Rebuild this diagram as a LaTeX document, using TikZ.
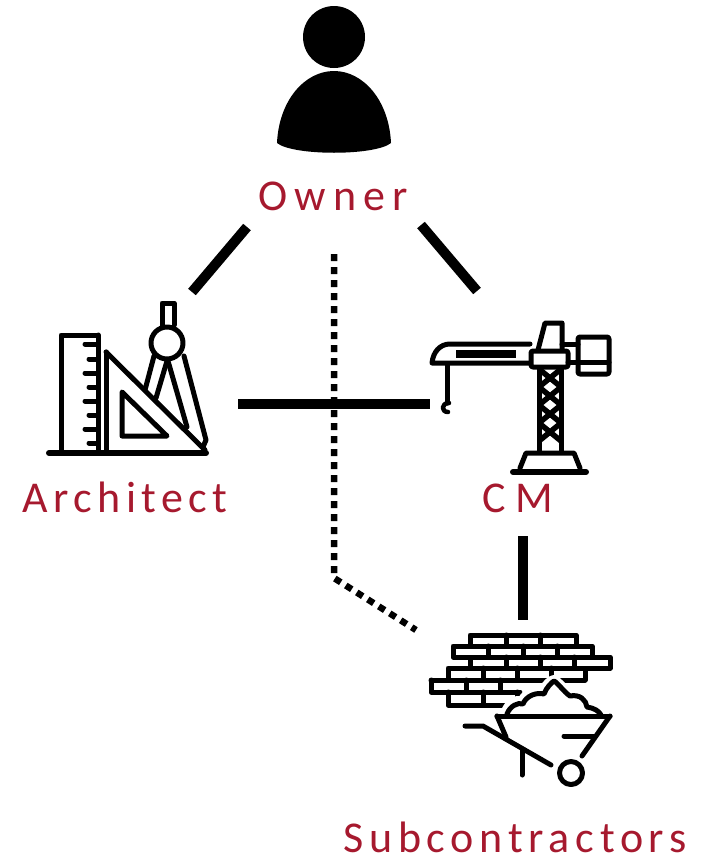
\documentclass[tikz,border=0pt]{standalone}
\usepackage{fontspec}
\setmainfont{Carlito}
\newfontfamily\spacedO[LetterSpace=16.5]{Carlito}
\newfontfamily\spacedA[LetterSpace=12.3]{Carlito}
\newfontfamily\spacedC[LetterSpace=23]{Carlito}
\newfontfamily\spacedS[LetterSpace=13]{Carlito}
\usetikzlibrary{calc}
\definecolor{labelred}{HTML}{A6192E}
\tikzset{
  lbl/.style={text=labelred,inner sep=0pt,anchor=base},
  link/.style={line width=10pt,black},
  dotlink/.style={line width=6.5pt,black,dash pattern=on 7pt off 6pt},
  ico/.style={line width=5pt,line cap=round,line join=round,black},
  thick ico/.style={line width=6pt,line cap=round,line join=round,black},
}
\begin{document}
\begin{tikzpicture}[x=1pt,y=-1pt]
\useasboundingbox (0,0) rectangle (705,865);
% Owner icon
\fill (334,37) circle (31);
\fill (277,143) .. controls (279,100) and (305,71) .. (334,71) .. controls (363,71) and (389,100) .. (391,143) .. controls (375,156) and (293,156) .. (277,143) -- cycle;
% Architect icon
\begin{scope}[ico]
\draw (98,335) -- (61,335) -- (61,453);
\draw (98,335) -- (98,453);
\foreach \y/\x in {344/85,359/89,373/85,387/89,401/85,415/89,429/85,443/89}{\draw (\x,\y) -- (98,\y);}
\draw (106,352) -- (106,453);
\draw (106,352) -- (205,450);
\draw (122,392) -- (122,436) -- (167,436) -- cycle;
\draw (162,325) -- (162,303) -- (174,303) -- (174,325);
\draw (167,343) circle (16);
\draw (154,356) -- (145,390);
\draw (167,361) -- (156,398);
\draw (168,361) -- (187,427);
\draw (184,356) -- (206,440) -- (203,447);
\end{scope}
\draw[thick ico] (49,453) -- (206,453);
% Crane icon
\begin{scope}[ico]
\draw (530,344) -- (450,344) .. controls (440,344) and (433,352) .. (432,363) -- (530,363);
\fill (456,350) rectangle (516,358);
\draw (538,350) -- (545,323) -- (562,323) -- (562,350);
\draw[rounded corners=2pt] (531,351) rectangle (568,367);
\draw (562,344) -- (578,344);
\draw (568,362) -- (578,362);
\draw[rounded corners=2pt] (578,337) rectangle (609,374);
\draw (578,362) -- (609,362);
\draw (539,369) -- (539,452);
\draw (561,369) -- (561,452);
\foreach \a in {369,387,405,423}{
  \draw[line width=5.5pt,line cap=butt] (539,\a) -- (561,\a+18) (561,\a) -- (539,\a+18);
}
\draw (520,468) -- (526,453) -- (574,453) -- (580,468);
\draw (447,365) -- (447,403);
\draw[line width=4.5pt] (449,403) .. controls (441,403) and (441,412) .. (448,412);
\end{scope}
\draw[thick ico] (513,472) -- (586,472);
% Bricks and barrow icon
\begin{scope}[ico]
\draw (470,646) -- (470,635) -- (576,635) -- (576,646);
\draw (453,646) rectangle (592,657);
\draw (470,657) -- (610,657) -- (610,668) -- (470,668) -- cycle;
\draw (448,680) -- (448,668) -- (585,668) -- (585,680);
\draw (431,680) -- (585,680);
\draw (431,680) -- (431,692) -- (520,692);
\draw (448,692) -- (448,705) -- (515,705);
\foreach \x in {506,540} \draw (\x,635) -- (\x,646);
\foreach \x in {488,523,557} \draw (\x,646) -- (\x,657);
\foreach \x in {506,540,574} \draw (\x,657) -- (\x,668);
\foreach \x in {483,517,551} \draw (\x,668) -- (\x,680);
\foreach \x in {466,500} \draw (\x,680) -- (\x,692);
\foreach \x in {483,517} \draw (\x,692) -- (\x,705);
\path[fill=white,draw=white,line width=10pt] (505,714) .. controls (510,700) and (518,700) .. (522,702) .. controls (526,692) and (536,690) .. (543,692) .. controls (545,685) and (552,680) .. (554,680) .. controls (558,682) and (564,690) .. (570,694) .. controls (580,692) and (586,698) .. (586,706) .. controls (594,706) and (600,710) .. (602,715) -- (612,730) -- (500,730) -- cycle;
\path[fill=white] (495,715) rectangle (615,780);
\draw (507,714) .. controls (510,706) and (518,702) .. (523,704) .. controls (526,696) and (536,692) .. (544,694) .. controls (546,688) and (552,682) .. (554,681) .. controls (558,683) and (564,692) .. (570,696) .. controls (580,694) and (586,700) .. (587,707) .. controls (594,708) and (599,711) .. (601,715);
\draw (497,716) -- (610,716);
\draw (497,716) -- (506,737);
\draw (610,716) -- (582,756);
\draw (564,736) -- (595,736);
\draw (465,726) -- (483,726) -- (551,765);
\draw (522,751) -- (522,775);
\draw (571,773) circle (11.5);
\end{scope}
% connector ends
\coordinate (oa) at (247,227);
\coordinate (ao) at (192,292);
\coordinate (oc) at (421,225);
\coordinate (co) at (477,291);
\coordinate (ac) at (238,403.5);
\coordinate (ca) at (430,403.5);
\coordinate (cs) at (523,536);
\coordinate (sc) at (523,620);
\coordinate (d1) at (334,254);
\coordinate (d2) at (334,578);
\coordinate (d3) at (416,630);
\draw[link] (oa) -- (ao);
\draw[link] (oc) -- (co);
\draw[link] (ac) -- (ca);
\draw[link] (cs) -- (sc);
\draw[dotlink] (d1) -- (d2) -- (d3);
% labels
\node[lbl,font=\spacedO\fontsize{44}{52}\selectfont] (owner) at (333,210) {Owner};
\node[lbl,font=\spacedA\fontsize{44}{52}\selectfont] (architect) at (125,512) {Architect};
\node[lbl,font=\spacedC\fontsize{44}{52}\selectfont] (cm) at (518,512) {CM};
\node[lbl,font=\spacedS\fontsize{44}{52}\selectfont] (subs) at (515,852) {Subcontractors};
\end{tikzpicture}
\end{document}
